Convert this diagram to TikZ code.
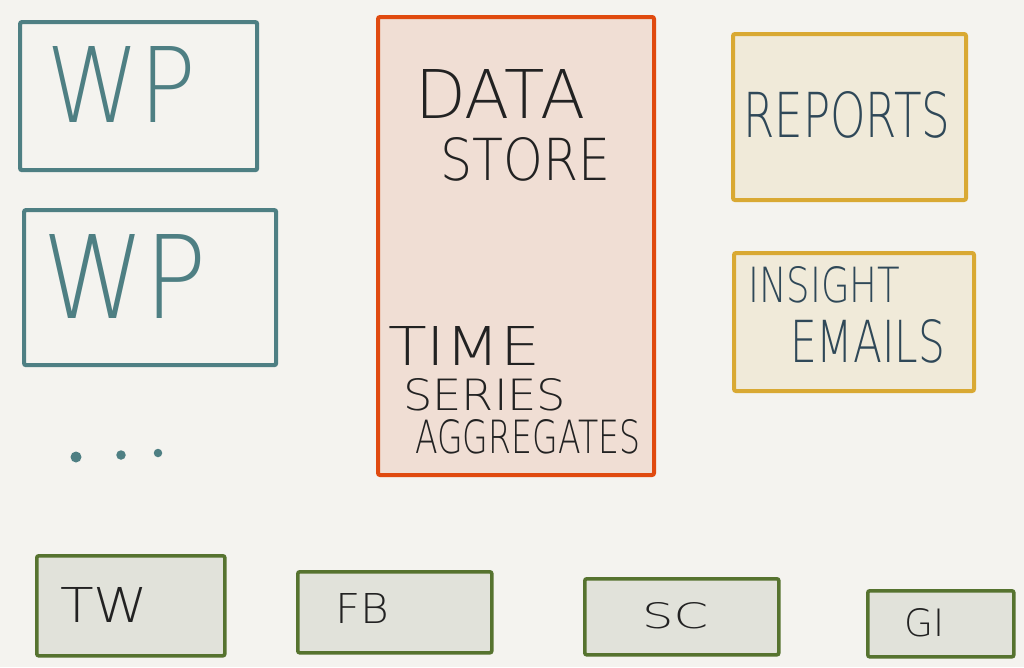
\documentclass[tikz,border=0pt]{standalone}
\usepackage{fontspec}
\usepackage{graphicx}
\setmainfont{DejaVu Sans ExtraLight}
\definecolor{bg}{HTML}{F4F3EF}
\definecolor{teal}{HTML}{4E7F83}
\definecolor{storeline}{HTML}{E04A0F}
\definecolor{storefill}{HTML}{F0DED4}
\definecolor{goldline}{HTML}{D9A933}
\definecolor{goldfill}{HTML}{F0EAD9}
\definecolor{greenline}{HTML}{56732F}
\definecolor{greenfill}{HTML}{E1E2DA}
\definecolor{ink}{HTML}{222222}
\definecolor{slate}{HTML}{2F4858}
\newcommand{\hw}[3]{\resizebox{#1pt}{#2pt}{#3}}
\tikzset{
  box/.style={rectangle, inner sep=0pt, rounded corners=2pt, anchor=north west},
  wpbox/.style={box, draw=teal, line width=4.2pt},
  storebox/.style={box, draw=storeline, fill=storefill, line width=4pt},
  goldbox/.style={box, draw=goldline, fill=goldfill, line width=4pt},
  srcbox/.style={box, draw=greenline, fill=greenfill, line width=3.6pt},
  txt/.style={inner sep=0pt, anchor=north west},
  dot/.style={circle, fill=teal, inner sep=0pt}
}
\begin{document}
\begin{tikzpicture}[x=1pt,y=-1pt]
\fill[bg] (0,0) rectangle (1024,667);
\useasboundingbox (0,0) rectangle (1024,667);
% WP boxes
\node[wpbox, minimum width=237pt, minimum height=148pt] (wp1) at (18,20) {};
\node[wpbox, minimum width=252pt, minimum height=155pt] (wp2) at (22,208) {};
\node[txt, text=teal] (wp1t) at (46,46) {\hw{150}{76}{WP}};
\node[txt, text=teal] (wp2t) at (42,234) {\hw{165}{84}{WP}};
\node[dot, minimum size=11pt] (d1) at (76,457) {};
\node[dot, minimum size=9.5pt] (d2) at (121,455) {};
\node[dot, minimum size=8.5pt] (d3) at (158,453) {};
% data store
\node[storebox, minimum width=276pt, minimum height=458pt] (store) at (376,15) {};
\node[txt, text=ink] (data) at (415,69) {\hw{170}{49}{DATA}};
\node[txt, text=ink] (storet) at (440,137) {\hw{170}{43}{STORE}};
\node[txt, text=ink] (time) at (388,326) {\hw{152}{39}{TIME}};
\node[txt, text=ink] (series) at (403,378) {\hw{163}{32}{SERIES}};
\node[txt, text=ink] (agg) at (415,419) {\hw{225}{34}{AGGREGATES}};
% outputs
\node[goldbox, minimum width=233pt, minimum height=166pt] (reports) at (731,32) {};
\node[txt, text=slate] (rept) at (743,91) {\hw{207}{46}{REPORTS}};
\node[goldbox, minimum width=240pt, minimum height=138pt] (insight) at (732,251) {};
\node[txt, text=slate] (inst) at (748,266) {\hw{152}{36}{INSIGHT}};
\node[txt, text=slate] (emt) at (790,319) {\hw{155}{43}{EMAILS}};
% sources
\node[srcbox, minimum width=188pt, minimum height=100pt] (tw) at (35,554) {};
\node[txt, text=ink] (twt) at (60,587) {\hw{88}{35}{TW}};
\node[srcbox, minimum width=194pt, minimum height=81pt] (fb) at (296,570) {};
\node[txt, text=ink] (fbt) at (335,593) {\hw{54}{30}{FB}};
\node[srcbox, minimum width=194pt, minimum height=76pt] (sc) at (583,577) {};
\node[txt, text=ink] (sct) at (642,602) {\hw{66}{26}{SC}};
\node[srcbox, minimum width=146pt, minimum height=66pt] (gi) at (866,589) {};
\node[txt, text=ink] (git) at (904,608) {\hw{40}{28}{GI}};
\end{tikzpicture}
\end{document}
